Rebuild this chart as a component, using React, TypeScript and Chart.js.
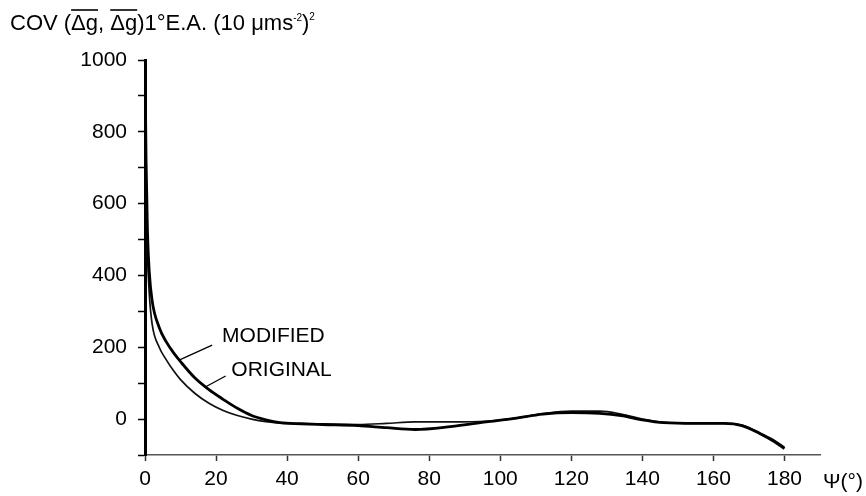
import React, { useEffect, useRef } from "react";
import { Chart, registerables } from "chart.js";

Chart.register(...registerables);

const psiModified = [0, 0.3, 0.7, 1.2, 2, 4, 6, 8, 10, 14, 18, 22, 26, 30, 34, 38, 44, 50, 60, 68, 76, 86, 96, 104, 112, 120, 128, 134, 140, 146, 155, 163, 168, 173, 177, 180];
const covModified = [1000, 720, 520, 410, 330, 255, 215, 185, 160, 115, 82, 55, 30, 10, -2, -10, -13, -15, -18, -24, -29, -21, -8, 2, 14, 18, 16, 10, -2, -10, -12, -12, -18, -40, -62, -82];

const psiOriginal = [0, 0.3, 0.7, 1.2, 2, 4, 6, 8, 10, 14, 18, 22, 26, 30, 34, 38, 44, 50, 60, 68, 76, 86, 96, 104, 112, 120, 128, 134, 140, 146, 155, 163, 168, 173, 177, 180];
const covOriginal = [1000, 660, 460, 350, 265, 200, 165, 135, 110, 72, 44, 24, 10, 0, -7, -11, -13, -14, -15, -12, -8, -8, -6, 2, 15, 22, 22, 14, 0, -9, -12, -12, -17, -38, -58, -78];

const seriesLabels = ["MODIFIED", "ORIGINAL"];
const yTickLabels = [0, 200, 400, 600, 800, 1000];
const xTickLabels = [0, 20, 40, 60, 80, 100, 120, 140, 160, 180];
const xAxisLabel = "\u03A8(\u00B0)";

const FONT = "'Liberation Sans', Arial, sans-serif";

const annotations = {
  id: "annotations",
  afterDraw(chart: any) {
    const ctx = chart.ctx;
    const xs = chart.scales.x;
    const ys = chart.scales.y;
    ctx.save();
    ctx.fillStyle = "#000";
    ctx.strokeStyle = "#000";
    ctx.textBaseline = "alphabetic";

    // Title with overlines
    const base = 30;
    let x = 10;
    const big = `22px ${FONT}`;
    const small = `10px ${FONT}`;
    const seg = (t: string, font: string, dy = 0, over = false) => {
      ctx.font = font;
      ctx.fillText(t, x, base + dy);
      const w = ctx.measureText(t).width;
      if (over) {
        ctx.lineWidth = 1.6;
        ctx.beginPath();
        ctx.moveTo(x, base - 20);
        ctx.lineTo(x + w, base - 20);
        ctx.stroke();
      }
      x += w;
    };
    seg("COV (", big);
    seg("\u0394g", big, 0, true);
    seg(", ", big);
    seg("\u0394g", big, 0, true);
    seg(")1\u00B0E.A. (10 \u03BCms", big);
    seg("-2", small, -9);
    seg(")", big);
    seg("2", small, -10);

    // Series labels
    ctx.font = `21px ${FONT}`;
    ctx.fillText(seriesLabels[0], xs.getPixelForValue(21.7), ys.getPixelForValue(215));
    ctx.fillText(seriesLabels[1], xs.getPixelForValue(24.3), ys.getPixelForValue(120));

    // Leader lines
    ctx.lineWidth = 1.3;
    ctx.beginPath();
    ctx.moveTo(xs.getPixelForValue(18.9), ys.getPixelForValue(206));
    ctx.lineTo(xs.getPixelForValue(9.6), ys.getPixelForValue(164));
    ctx.moveTo(xs.getPixelForValue(22.7), ys.getPixelForValue(120));
    ctx.lineTo(xs.getPixelForValue(17.1), ys.getPixelForValue(90));
    ctx.stroke();

    // X axis label
    ctx.font = `21px ${FONT}`;
    ctx.textBaseline = "middle";
    ctx.fillText(xAxisLabel, 823, xs.bottom - 14);
    ctx.restore();
  },
};

export default function App() {
  const ref = useRef<HTMLCanvasElement>(null);
  useEffect(() => {
    if (!ref.current) return;
    const chart = new Chart(ref.current, {
      type: "line",
      data: {
        datasets: [
          {
            label: seriesLabels[0],
            data: psiModified.map((p, i) => ({ x: p, y: covModified[i] })),
            borderColor: "#000",
            borderWidth: 2.8,
            pointRadius: 0,
            cubicInterpolationMode: "monotone",
          },
          {
            label: seriesLabels[1],
            data: psiOriginal.map((p, i) => ({ x: p, y: covOriginal[i] })),
            borderColor: "#111",
            borderWidth: 1.7,
            pointRadius: 0,
            cubicInterpolationMode: "monotone",
          },
        ],
      },
      options: {
        animation: false,
        responsive: false,
        devicePixelRatio: 1,
        layout: { padding: { top: 60, right: 46, left: 0, bottom: 0 } },
        plugins: { legend: { display: false }, tooltip: { enabled: false }, title: { display: false } },
        scales: {
          x: {
            type: "linear",
            min: 0,
            max: 190,
            afterFit: (s: any) => { s.height = 41; },
            afterBuildTicks: (s: any) => {
              s.ticks = xTickLabels.map((v) => ({ value: v }));
            },
            ticks: {
              autoSkip: false,
              maxRotation: 0,
              color: "#000",
              padding: 6,
              font: { family: FONT, size: 21 },
              callback: (v: any) => String(v),
            },
            grid: { drawOnChartArea: false, drawTicks: true, tickLength: 6, color: "#333", tickWidth: 1.5 },
            border: { display: true, color: "#555", width: 1.6 },
          },
          y: {
            type: "linear",
            min: -100,
            max: 1000,
            afterFit: (s: any) => { s.width = 145; },
            ticks: {
              stepSize: 100,
              autoSkip: false,
              color: "#000",
              padding: 11,
              font: { family: FONT, size: 21 },
              callback: (v: any) => (yTickLabels.includes(v) ? String(v) : ""),
            },
            grid: { drawOnChartArea: false, drawTicks: true, tickLength: 7, color: "#000", tickWidth: 1.5 },
            border: { display: true, color: "#000", width: 3 },
          },
        },
      },
      plugins: [annotations],
    });
    return () => chart.destroy();
  }, []);
  return (
    <div style={{ position: "absolute", left: 0, top: 0, width: 866, height: 496, background: "#fff" }}>
      <canvas ref={ref} width={866} height={496} />
    </div>
  );
}
